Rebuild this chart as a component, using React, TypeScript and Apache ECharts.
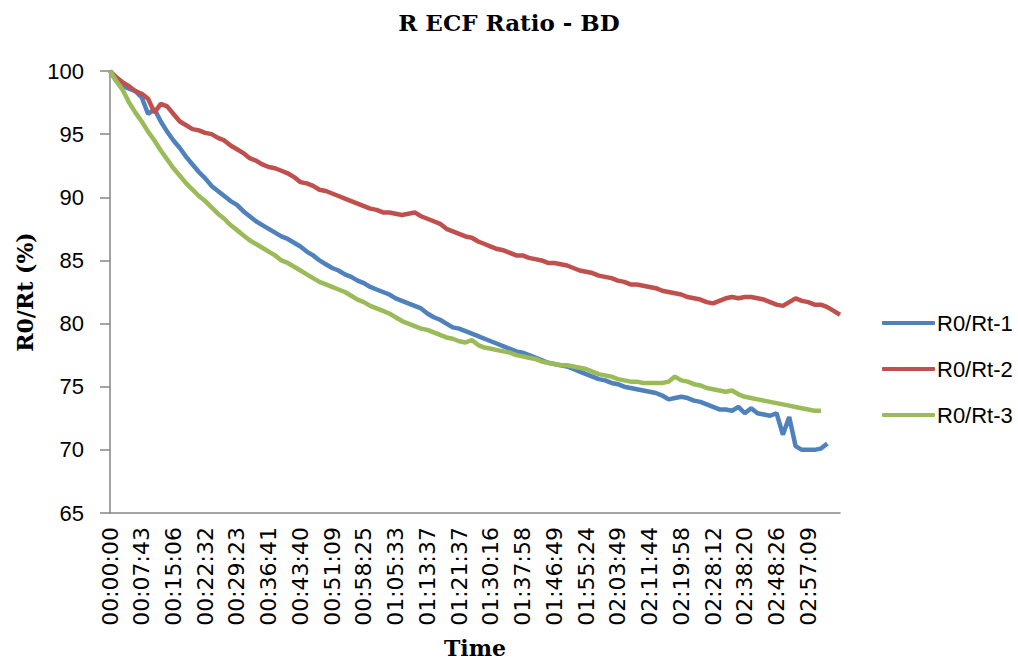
import React, { useEffect, useRef } from "react";
import * as echarts from "echarts";

const title = "R ECF Ratio - BD";
const tickLabels = [
  "00:00:00", "00:07:43", "00:15:06", "00:22:32", "00:29:23", "00:36:41",
  "00:43:40", "00:51:09", "00:58:25", "01:05:33", "01:13:37", "01:21:37",
  "01:30:16", "01:37:58", "01:46:49", "01:55:24", "02:03:49", "02:11:44",
  "02:19:58", "02:28:12", "02:38:20", "02:48:26", "02:57:09",
];
const samplesPerLabel = 5;
const sampleCount = 116;
const categories = Array.from({ length: sampleCount }, (_, i) => String(i));

const seriesNames = ["R0/Rt-1", "R0/Rt-2", "R0/Rt-3"];
const seriesColors = ["#4F81BD", "#C0504D", "#9BBB59"];

const r1 = [
  100, 99.2, 98.8, 98.6, 98.4, 97.9, 96.6, 97.0, 96.0, 95.2,
  94.5, 93.9, 93.2, 92.6, 92.0, 91.5, 90.9, 90.5, 90.1, 89.7,
  89.4, 88.9, 88.5, 88.1, 87.8, 87.5, 87.2, 86.9, 86.7, 86.4,
  86.1, 85.7, 85.4, 85.0, 84.7, 84.4, 84.2, 83.9, 83.7, 83.4,
  83.2, 82.9, 82.7, 82.5, 82.3, 82.0, 81.8, 81.6, 81.4, 81.2,
  80.8, 80.5, 80.3, 80.0, 79.7, 79.6, 79.4, 79.2, 79.0, 78.8,
  78.6, 78.4, 78.2, 78.0, 77.8, 77.7, 77.5, 77.3, 77.1, 76.9,
  76.8, 76.7, 76.6, 76.4, 76.2, 76.0, 75.8, 75.6, 75.5, 75.3,
  75.2, 75.0, 74.9, 74.8, 74.7, 74.6, 74.5, 74.3, 74.0, 74.1,
  74.2, 74.1, 73.9, 73.8, 73.6, 73.4, 73.2, 73.2, 73.1, 73.4,
  72.9, 73.3, 72.9, 72.8, 72.7, 72.9, 71.2, 72.6, 70.3, 70.0,
  70.0, 70.0, 70.1, 70.5,
];
const r2 = [
  100, 99.5, 99.1, 98.8, 98.4, 98.2, 97.8, 96.7, 97.4, 97.2,
  96.6, 96.0, 95.7, 95.4, 95.3, 95.1, 95.0, 94.7, 94.5, 94.1,
  93.8, 93.5, 93.1, 92.9, 92.6, 92.4, 92.3, 92.1, 91.9, 91.6,
  91.2, 91.1, 90.9, 90.6, 90.5, 90.3, 90.1, 89.9, 89.7, 89.5,
  89.3, 89.1, 89.0, 88.8, 88.8, 88.7, 88.6, 88.7, 88.8, 88.5,
  88.3, 88.1, 87.9, 87.5, 87.3, 87.1, 86.9, 86.8, 86.5, 86.3,
  86.1, 85.9, 85.8, 85.6, 85.4, 85.4, 85.2, 85.1, 85.0, 84.8,
  84.8, 84.7, 84.6, 84.4, 84.2, 84.1, 84.0, 83.8, 83.7, 83.6,
  83.4, 83.3, 83.1, 83.1, 83.0, 82.9, 82.8, 82.6, 82.5, 82.4,
  82.3, 82.1, 82.0, 81.9, 81.7, 81.6, 81.8, 82.0, 82.1, 82.0,
  82.1, 82.1, 82.0, 81.9, 81.7, 81.5, 81.4, 81.7, 82.0, 81.8,
  81.7, 81.5, 81.5, 81.3, 81.0, 80.7,
];
const r3 = [
  100, 99.2, 98.5, 97.5, 96.7, 96.0, 95.2, 94.5, 93.7, 93.0,
  92.3, 91.7, 91.1, 90.6, 90.1, 89.7, 89.2, 88.7, 88.3, 87.8,
  87.4, 87.0, 86.6, 86.3, 86.0, 85.7, 85.4, 85.0, 84.8, 84.5,
  84.2, 83.9, 83.6, 83.3, 83.1, 82.9, 82.7, 82.5, 82.2, 81.9,
  81.7, 81.4, 81.2, 81.0, 80.8, 80.5, 80.2, 80.0, 79.8, 79.6,
  79.5, 79.3, 79.1, 78.9, 78.8, 78.6, 78.5, 78.7, 78.3, 78.1,
  78.0, 77.9, 77.8, 77.7, 77.5, 77.4, 77.3, 77.2, 77.0, 76.9,
  76.8, 76.7, 76.7, 76.6, 76.5, 76.4, 76.2, 76.0, 75.9, 75.8,
  75.6, 75.5, 75.4, 75.4, 75.3, 75.3, 75.3, 75.3, 75.4, 75.8,
  75.5, 75.4, 75.2, 75.1, 74.9, 74.8, 74.7, 74.6, 74.7, 74.4,
  74.2, 74.1, 74.0, 73.9, 73.8, 73.7, 73.6, 73.5, 73.4, 73.3,
  73.2, 73.1, 73.1,
];
const seriesData = [r1, r2, r3];

const yMin = 65;
const yMax = 100;
const yStep = 5;

export default function App() {
  const ref = useRef<HTMLDivElement>(null);
  useEffect(() => {
    if (!ref.current) return;
    const chart = echarts.init(ref.current, null, { renderer: "svg" });
    chart.setOption({
      animation: false,
      backgroundColor: "#ffffff",
      title: {
        text: title,
        left: "center",
        top: 6,
        textStyle: {
          fontFamily: "DejaVu Serif",
          fontWeight: "bold",
          fontSize: 23,
          color: "#000",
        },
      },
      legend: {
        orient: "vertical",
        left: 877,
        top: 307,
        itemWidth: 53,
        itemHeight: 4,
        itemGap: 24,
        icon: "roundRect",
        data: seriesNames.map((n, i) => ({
          name: n,
          itemStyle: { color: seriesColors[i] },
        })),
        textStyle: {
          fontFamily: "Liberation Sans",
          fontSize: 22,
          color: "#000",
          padding: [0, 0, 0, -3],
        },
      },
      grid: { left: 110, right: 178, top: 71, bottom: 150, containLabel: false },
      xAxis: {
        type: "category",
        data: categories,
        boundaryGap: false,
        name: "Time",
        nameLocation: "middle",
        nameGap: 124,
        nameTextStyle: {
          fontFamily: "DejaVu Serif",
          fontWeight: "bold",
          fontSize: 22,
          color: "#000",
        },
        axisLine: { lineStyle: { color: "#868686", width: 1.5 } },
        axisTick: { show: false },
        axisLabel: {
          interval: samplesPerLabel - 1,
          rotate: 90,
          margin: 14,
          fontFamily: "DejaVu Sans",
          fontSize: 22,
          color: "#000",
          formatter: (_v: string, idx: number) =>
            idx % samplesPerLabel === 0 ? tickLabels[idx / samplesPerLabel] ?? "" : "",
        },
        splitLine: { show: false },
      },
      yAxis: {
        type: "value",
        min: yMin,
        max: yMax,
        interval: yStep,
        name: "R0/Rt (%)",
        nameLocation: "middle",
        nameGap: 72,
        nameTextStyle: {
          fontFamily: "DejaVu Serif",
          fontWeight: "bold",
          fontSize: 22,
          color: "#000",
        },
        axisLine: { show: true, lineStyle: { color: "#868686", width: 1.5 } },
        axisTick: { show: true, length: 10, lineStyle: { color: "#868686", width: 1.5 } },
        axisLabel: {
          margin: 26,
          fontFamily: "Liberation Sans",
          fontSize: 22,
          color: "#000",
        },
        splitLine: { show: false },
      },
      series: seriesNames.map((n, i) => ({
        name: n,
        type: "line",
        data: seriesData[i],
        showSymbol: false,
        symbol: "none",
        lineStyle: { color: seriesColors[i], width: 4.5 },
        itemStyle: { color: seriesColors[i] },
      })),
    });
    return () => chart.dispose();
  }, []);
  return (
    <div
      ref={ref}
      style={{ position: "fixed", left: 0, top: 0, width: 1018, height: 664 }}
    />
  );
}
